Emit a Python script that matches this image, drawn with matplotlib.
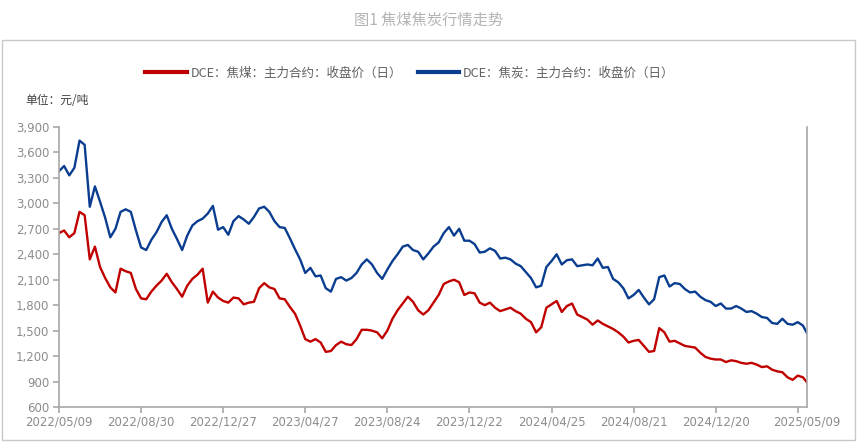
import numpy as np
import matplotlib.pyplot as plt
from matplotlib.patches import Rectangle

plt.rcParams['font.family'] = ['Noto Sans CJK SC', 'DejaVu Sans']

# trading-day index: one value every 5 trading days, last point = final day
step = 5
last_day = 729

coking_coal = [  # DCE 焦煤 主力合约 收盘价
    2650, 2680, 2600, 2650, 2900, 2860, 2340, 2490, 2250, 2120,
    2010, 1950, 2230, 2200, 2180, 1990, 1880, 1870, 1960, 2030,
    2090, 2170, 2070, 1990, 1900, 2030, 2110, 2160, 2230, 1830,
    1960, 1890, 1850, 1830, 1890, 1880, 1810, 1830, 1840, 2000,
    2060, 2010, 1990, 1880, 1870, 1780, 1700, 1560, 1400, 1370,
    1400, 1360, 1250, 1260, 1330, 1370, 1340, 1330, 1400, 1510,
    1510, 1500, 1480, 1410, 1500, 1640, 1740, 1820, 1900, 1840,
    1740, 1690, 1740, 1830, 1920, 2050, 2080, 2100, 2070, 1920,
    1950, 1940, 1830, 1800, 1830, 1770, 1730, 1750, 1770, 1730,
    1700, 1640, 1600, 1480, 1540, 1770, 1810, 1850, 1720, 1790,
    1820, 1690, 1660, 1630, 1570, 1620, 1580, 1550, 1520, 1480,
    1430, 1360, 1380, 1390, 1320, 1250, 1260, 1530, 1480, 1370,
    1380, 1350, 1320, 1310, 1300, 1240, 1190, 1170, 1160, 1160,
    1130, 1150, 1140, 1120, 1110, 1120, 1100, 1070, 1080, 1040,
    1020, 1010, 950, 920, 970, 950, 890,
]

coke = [  # DCE 焦炭 主力合约 收盘价
    3380, 3440, 3330, 3420, 3740, 3690, 2960, 3200, 3020, 2830,
    2600, 2700, 2900, 2930, 2900, 2680, 2480, 2450, 2570, 2660,
    2780, 2860, 2700, 2580, 2450, 2620, 2740, 2790, 2820, 2880,
    2970, 2690, 2720, 2630, 2790, 2850, 2810, 2760, 2840, 2940,
    2960, 2900, 2790, 2720, 2710, 2590, 2460, 2340, 2180, 2240,
    2140, 2150, 2000, 1960, 2110, 2130, 2090, 2120, 2180, 2280,
    2340, 2280, 2180, 2110, 2220, 2320, 2400, 2490, 2510, 2450,
    2430, 2340, 2410, 2490, 2540, 2650, 2720, 2620, 2700, 2560,
    2560, 2520, 2420, 2430, 2470, 2440, 2350, 2360, 2340, 2290,
    2260, 2190, 2120, 2010, 2030, 2250, 2320, 2400, 2280, 2330,
    2340, 2260, 2270, 2280, 2270, 2350, 2240, 2250, 2110, 2070,
    2000, 1880, 1920, 1980, 1890, 1810, 1870, 2130, 2150, 2020,
    2060, 2050, 1990, 1950, 1960, 1900, 1860, 1840, 1790, 1820,
    1760, 1760, 1790, 1760, 1720, 1730, 1700, 1660, 1650, 1590,
    1580, 1640, 1580, 1570, 1600, 1560, 1470,
]

tick_days = [0, 80, 160, 240, 320, 400, 480, 560, 640, 720]
tick_labels = ['2022/05/09', '2022/08/30', '2022/12/27', '2023/04/27',
               '2023/08/24', '2023/12/22', '2024/04/25', '2024/08/21',
               '2024/12/20', '']
end_label = '2025/05/09'

days = np.append(np.arange(len(coke) - 1) * step, last_day)

fig = plt.figure(figsize=(8.57, 4.43), dpi=100)
fig.patch.set_facecolor('white')
fig.patches.append(Rectangle((2 / 857, 3 / 443), 853 / 857, 400 / 443,
                             transform=fig.transFigure, fill=False,
                             edgecolor='#c8c8c8', lw=1))
fig.text(0.5, 1 - 20 / 443, '图1 焦煤焦炭行情走势', ha='center', va='center',
         fontsize=11, color='#b4b4b4')

ax = fig.add_axes([59 / 857, 1 - 407 / 443, 748 / 857, 280 / 443])
red = '#C00000'
blue = '#0A3D8F'
l1, = ax.plot(days, coking_coal, color=red, lw=1.7,
              label='DCE：焦煤：主力合约：收盘价（日）')
l2, = ax.plot(days, coke, color=blue, lw=1.7,
              label='DCE：焦炭：主力合约：收盘价（日）')

ax.set_xlim(0, last_day)
ax.set_ylim(600, 3900)
ax.set_yticks(np.arange(600, 3901, 300))
ax.set_yticklabels([f'{v:,}' for v in range(600, 3901, 300)])
ax.set_xticks(tick_days + [last_day])
ax.set_xticklabels(tick_labels + [end_label])
ax.xaxis.get_major_ticks()[-1].tick1line.set_visible(False)

for s in ['left', 'bottom', 'right']:
    ax.spines[s].set_color('#a8a8a8')
    ax.spines[s].set_linewidth(1.2)
ax.spines['top'].set_visible(False)
ax.tick_params(axis='both', colors='#a8a8a8', labelcolor='#8c8c8c',
               length=4, width=1.2, labelsize=8.5)
ax.tick_params(axis='x', pad=2)
ax.tick_params(axis='y', pad=3)
for t in ax.get_xticklabels() + ax.get_yticklabels():
    t.set_family('DejaVu Sans')

fig.legend(handles=[l1, l2], loc='center',
           bbox_to_anchor=(410 / 857, 1 - 73 / 443),
           ncol=2, frameon=False, fontsize=9, handlelength=3.3,
           columnspacing=1.2, handletextpad=0.35, labelcolor='#606060')
for line in fig.legends[0].get_lines():
    line.set_linewidth(3)
fig.text(25 / 857, 1 - 101 / 443, '单位：元/吨', ha='left', va='center',
         fontsize=8.5, color='#404040')

plt.savefig('out.png', dpi=100)
